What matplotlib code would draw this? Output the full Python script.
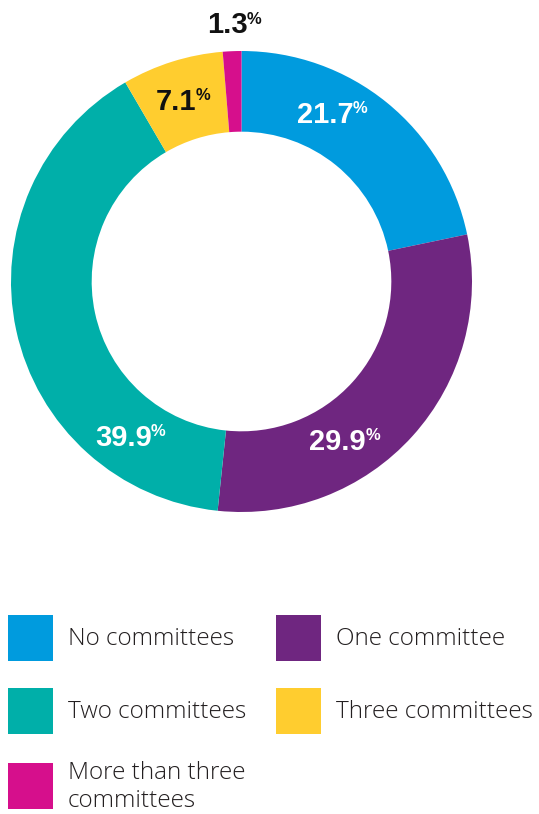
import numpy as np
import matplotlib.pyplot as plt
from matplotlib.patches import Rectangle

# share of board members by number of committees served on
categories = ["No committees", "One committee", "Two committees",
              "Three committees", "More than three\ncommittees"]
shares = [21.7, 29.9, 39.9, 7.1, 1.3]
colors = ["#009bde", "#6f2680", "#00afa9", "#ffcd2f", "#d60f8c"]
label_colors = ["white", "white", "white", "#111111", "#111111"]

# where each value label sits (polar angle in degrees, radius as fraction of ring)
label_pos = [(63.4, 0.81), (-59.0, 0.81), (232.9, 0.85), (110.0, 0.83), (93.2, 1.115)]

W, H = 539, 814
fig = plt.figure(figsize=(W / 100, H / 100), dpi=100)
fig.patch.set_facecolor("white")

# ring chart
ax = fig.add_axes([10 / W, (H - 512) / H, 463 / W, 461 / H])
ax.pie(shares, colors=colors, startangle=90, counterclock=False, radius=1,
       wedgeprops=dict(width=0.35, linewidth=0))
ax.set_xlim(-1, 1)
ax.set_ylim(-1, 1)
ax.set_aspect("equal")
ax.axis("off")

for val, col, (ang, r) in zip(shares, label_colors, label_pos):
    a = np.deg2rad(ang)
    x, y = r * np.cos(a), r * np.sin(a)
    t = ax.text(x, y, f"{val:.1f}", ha="center", va="center", color=col,
                fontsize=21, fontweight="bold", family="Liberation Sans")
    ax.annotate("%", xy=(1, 1), xycoords=t, xytext=(-0.5, -0.5),
                textcoords="offset points", ha="left", va="top", color=col,
                fontsize=12, fontweight="bold", family="Liberation Sans")

# legend drawn in pixel units
lax = fig.add_axes([0, 0, 1, 1])
lax.set_xlim(0, W)
lax.set_ylim(H, 0)
lax.axis("off")
cols_x = [8, 276]
rows_y = [615, 688, 763]
for i, (lab, col) in enumerate(zip(categories, colors)):
    x0 = cols_x[i % 2]
    y0 = rows_y[i // 2]
    lax.add_patch(Rectangle((x0, y0), 45, 46, color=col, linewidth=0))
    lax.text(x0 + 60, y0 + 24, lab, ha="left", va="center", fontsize=17.5,
             color="#231f20", family="Open Sans", fontweight="light",
             linespacing=1.2)

fig.savefig("out.png", dpi=100, facecolor="white")
